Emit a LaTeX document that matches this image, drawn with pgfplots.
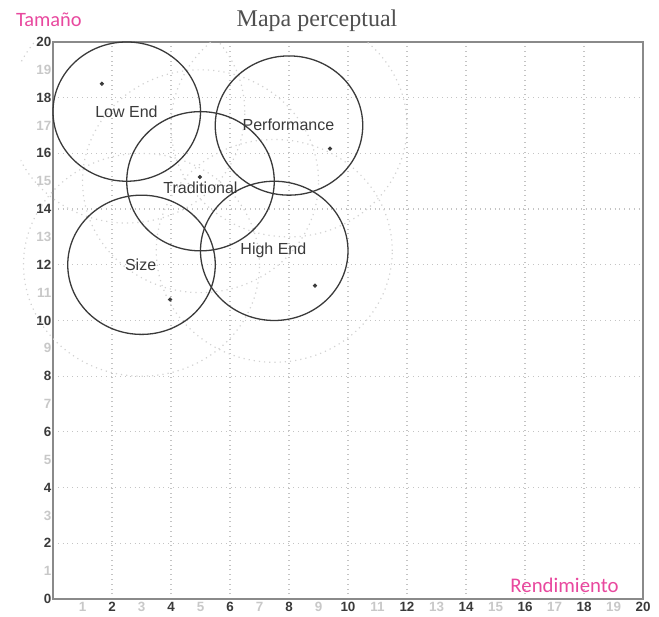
\documentclass[border=0pt]{standalone}
\usepackage{pgfplots}
\pgfplotsset{compat=1.18}
\usepackage{fontspec}
\setmainfont{Liberation Sans}
\newfontfamily\serifttl{Liberation Serif}
\newfontfamily\calib{Carlito}
\definecolor{pinkl}{HTML}{E8489E}
\definecolor{dk}{HTML}{3A3A3A}
\definecolor{lt}{HTML}{C8C8C8}
\definecolor{rough}{HTML}{D2D2D2}
\definecolor{axc}{HTML}{8A8A8A}
\definecolor{gridc}{HTML}{C4C4C4}
\definecolor{ttl}{HTML}{505050}
\begin{document}
\begin{tikzpicture}
\begin{axis}[name=ax, scale only axis, width=295pt, height=278.5pt,
  xmin=0, xmax=20, ymin=0, ymax=20, clip=false,
  axis line style={draw=axc, line width=1pt},
  major tick length=0pt,
  xtick={2,4,6,8,10,12,14,16,18,20},
  xticklabels={2,4,6,8,10,12,14,16,18,20},
  ytick={0,2,4,6,8,10,12,14,16,18,20},
  yticklabels={0,2,4,6,8,10,12,14,16,18,20},
  extra x ticks={1,3,5,7,9,11,13,15,17,19},
  extra x tick labels={1,3,5,7,9,11,13,15,17,19},
  extra y ticks={1,3,5,7,9,11,13,15,17,19},
  extra y tick labels={1,3,5,7,9,11,13,15,17,19},
  extra x tick style={grid=none, xticklabel style={text=lt}},
  extra y tick style={grid=none, yticklabel style={text=lt}},
  grid=major,
  major grid style={dotted, draw=gridc, line width=0.6pt},
  xticklabel style={font=\bfseries\fontsize{6.7}{7}\selectfont, text=dk, inner sep=1pt, yshift=-0.5pt},
  yticklabel style={font=\bfseries\fontsize{6.7}{7}\selectfont, text=dk, inner sep=0.6pt},
]
% rough-cut (outer) circles
\begin{scope}
\clip (axis cs:-1.1,0) rectangle (axis cs:20,20);
\draw[rough, dotted, line width=0.6pt] (axis cs:2.5,17.5) circle[radius=4];
\draw[rough, dotted, line width=0.6pt] (axis cs:5,15) circle[radius=4];
\draw[rough, dotted, line width=0.6pt] (axis cs:8,17) circle[radius=4];
\draw[rough, dotted, line width=0.6pt] (axis cs:3,12) circle[radius=4];
\draw[rough, dotted, line width=0.6pt] (axis cs:7.5,12.5) circle[radius=4];
\end{scope}
% fine-cut circles
\draw[dk, line width=0.65pt] (axis cs:2.5,17.5) circle[radius=2.5];
\draw[dk, line width=0.65pt] (axis cs:5,15) circle[radius=2.5];
\draw[dk, line width=0.65pt] (axis cs:8,17) circle[radius=2.5];
\draw[dk, line width=0.65pt] (axis cs:3,12) circle[radius=2.5];
\draw[dk, line width=0.65pt] (axis cs:7.5,12.5) circle[radius=2.5];
% ideal spots
\addplot[only marks, mark=*, mark size=0.85pt, dk] coordinates {
 (1.66,18.5) (4.98,15.15) (9.39,16.17) (3.97,10.75) (8.88,11.25)};
% segment labels
\node[text=dk, font=\fontsize{8}{9}\selectfont] at (axis cs:2.49,17.49) {Low End};
\node[text=dk, font=\fontsize{8}{9}\selectfont] at (axis cs:7.98,17.02) {Performance};
\node[text=dk, font=\fontsize{8}{9}\selectfont] at (axis cs:5.0,14.76) {Traditional};
\node[text=dk, font=\fontsize{8}{9}\selectfont] at (axis cs:2.97,11.99) {Size};
\node[text=dk, font=\fontsize{8}{9}\selectfont] at (axis cs:7.47,12.5) {High End};
% titles
\node[anchor=base, text=ttl, font=\serifttl\fontsize{12}{14}\selectfont] at (axis cs:8.95,20.54) {Mapa perceptual};
\node[anchor=base, text=pinkl, font=\calib\fontsize{10.2}{12}\selectfont] at (axis cs:-0.14,20.54) {Tamaño};
\node[text=pinkl, font=\calib\fontsize{10.4}{12}\selectfont] at (axis cs:17.34,0.5) {Rendimiento};
\end{axis}
\pgfresetboundingbox
\path ([xshift=-26.5pt,yshift=-9pt]ax.south west) rectangle ([xshift=8pt,yshift=21pt]ax.north east);
\end{tikzpicture}
\end{document}
